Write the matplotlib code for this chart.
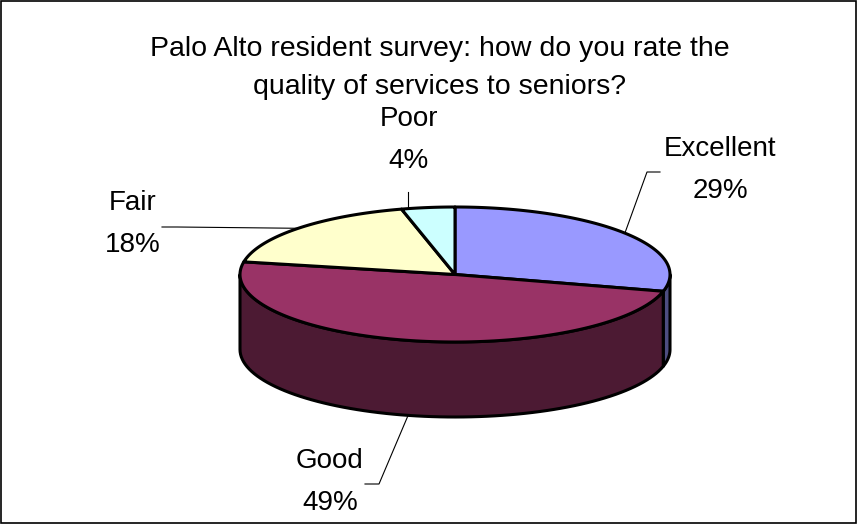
import numpy as np
import matplotlib.pyplot as plt
from matplotlib.patches import Polygon, Rectangle

# survey answers, clockwise from 12 o'clock
labels = ["Excellent", "Good", "Fair", "Poor"]
shares = [29, 49, 18, 4]
top_colors = ["#9999FF", "#993366", "#FFFFCC", "#CCFFFF"]
side_colors = ["#4D4D80", "#4C1A33", "#80806A", "#668080"]

title = "Palo Alto resident survey: how do you rate the\nquality of services to seniors?"

# pie geometry in pixel units
cx, cy = 455, 274.5
a, b = 215, 67.5
depth = 75

plt.rcParams["font.family"] = ["Liberation Sans", "DejaVu Sans"]

W, H, DPI = 857, 525, 100
fig = plt.figure(figsize=(W / DPI, H / DPI), dpi=DPI)
ax = fig.add_axes([0, 0, 1, 1])
ax.set_xlim(0, W)
ax.set_ylim(H, 0)
ax.axis("off")


def edge(theta, dz=0.0):
    # theta in degrees, clockwise from top
    t = np.radians(theta)
    return cx + a * np.sin(t), cy - b * np.cos(t) + dz


bounds = np.concatenate([[0], np.cumsum(shares)]) / sum(shares) * 360.0

# side walls (front half only, 90..270 deg)
for i in range(len(shares)):
    t0 = max(bounds[i], 90)
    t1 = min(bounds[i + 1], 270)
    if t1 <= t0:
        continue
    th = np.linspace(t0, t1, 80)
    xs, ys = edge(th)
    xb, yb = edge(th[::-1], depth)
    pts = np.column_stack([np.r_[xs, xb], np.r_[ys, yb]])
    ax.add_patch(Polygon(pts, closed=True, facecolor=side_colors[i],
                         edgecolor="black", lw=2.2, joinstyle="round"))

# top faces
for i in range(len(shares)):
    th = np.linspace(bounds[i], bounds[i + 1], 120)
    xs, ys = edge(th)
    pts = np.column_stack([np.r_[cx, xs], np.r_[cy, ys]])
    ax.add_patch(Polygon(pts, closed=True, facecolor=top_colors[i],
                         edgecolor="black", lw=2.2, joinstyle="round"))

# data labels with leader lines
mids = (bounds[:-1] + bounds[1:]) / 2
label_pos = [(720, 170), (330, 482), (133, 224), (409, 140)]
elbows = [[(647, 172), (660, 172)], [(379, 484), (365, 484)],
          [(177, 227), (162, 227)], None]
for i, name in enumerate(labels):
    mx, my = edge(mids[i])
    if 90 < mids[i] < 270:
        my += depth
    if elbows[i] is not None:
        xs = [mx] + [p[0] for p in elbows[i]]
        ys = [my] + [p[1] for p in elbows[i]]
    else:
        xs, ys = [408, 408], [192, 208]
    ax.plot(xs, ys, color="black", lw=0.8)
    ax.text(label_pos[i][0], label_pos[i][1], "%s\n%d%%" % (name, shares[i]),
            ha="center", va="center", fontsize=20, linespacing=1.85)

ax.text(440, 68, title, ha="center", va="center", fontsize=20.5, linespacing=1.55)

ax.add_patch(Rectangle((0.5, 0.5), W - 1.5, H - 2.5, fill=False,
                       edgecolor="black", lw=1.2))

plt.savefig("out.png", dpi=DPI)
